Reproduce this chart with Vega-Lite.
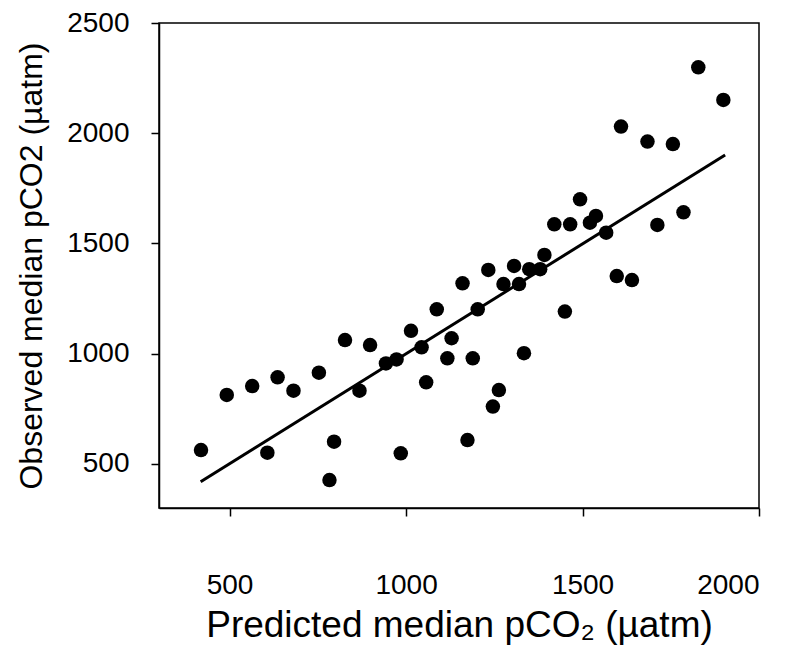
{
  "$schema": "https://vega.github.io/schema/vega-lite/v6.json",
  "autosize": {"type": "none"},
  "width": 600,
  "height": 485,
  "padding": {"left": 159, "top": 23, "right": 37, "bottom": 159},
  "background": "white",
  "config": {
    "font": "Liberation Sans",
    "view": {"stroke": "black", "strokeWidth": 1.5},
    "axis": {
      "grid": false,
      "domainColor": "black",
      "domainWidth": 1.5,
      "tickColor": "black",
      "tickWidth": 1.5,
      "tickSize": 8,
      "labelColor": "black",
      "labelFont": "Liberation Sans",
      "labelFontSize": 28,
      "format": "d",
      "titleColor": "black",
      "titleFont": "Liberation Sans",
      "titleFontWeight": "normal"
    }
  },
  "datasets": {
    "points": [
      {"predicted": 419, "observed": 563},
      {"predicted": 492, "observed": 813},
      {"predicted": 564, "observed": 853},
      {"predicted": 636, "observed": 893},
      {"predicted": 681, "observed": 832},
      {"predicted": 607, "observed": 551},
      {"predicted": 753, "observed": 914},
      {"predicted": 783, "observed": 427},
      {"predicted": 796, "observed": 601},
      {"predicted": 827, "observed": 1062},
      {"predicted": 868, "observed": 832},
      {"predicted": 898, "observed": 1039},
      {"predicted": 943, "observed": 956},
      {"predicted": 973, "observed": 974},
      {"predicted": 985, "observed": 548},
      {"predicted": 1014, "observed": 1104},
      {"predicted": 1044, "observed": 1029},
      {"predicted": 1057, "observed": 870},
      {"predicted": 1087, "observed": 1201},
      {"predicted": 1117, "observed": 979},
      {"predicted": 1129, "observed": 1070},
      {"predicted": 1160, "observed": 1319},
      {"predicted": 1189, "observed": 979},
      {"predicted": 1203, "observed": 1201},
      {"predicted": 1174, "observed": 608},
      {"predicted": 1334, "observed": 1002},
      {"predicted": 1246, "observed": 760},
      {"predicted": 1263, "observed": 835},
      {"predicted": 1233, "observed": 1380},
      {"predicted": 1276, "observed": 1316},
      {"predicted": 1306, "observed": 1398},
      {"predicted": 1320, "observed": 1316},
      {"predicted": 1349, "observed": 1383},
      {"predicted": 1380, "observed": 1383},
      {"predicted": 1392, "observed": 1448},
      {"predicted": 1420, "observed": 1587},
      {"predicted": 1465, "observed": 1587},
      {"predicted": 1450, "observed": 1191},
      {"predicted": 1493, "observed": 1700},
      {"predicted": 1521, "observed": 1594},
      {"predicted": 1538, "observed": 1625},
      {"predicted": 1567, "observed": 1549},
      {"predicted": 1597, "observed": 1352},
      {"predicted": 1640, "observed": 1334},
      {"predicted": 1609, "observed": 2030},
      {"predicted": 1684, "observed": 1962},
      {"predicted": 1756, "observed": 1951},
      {"predicted": 1712, "observed": 1584},
      {"predicted": 1786, "observed": 1641},
      {"predicted": 1828, "observed": 2299},
      {"predicted": 1899, "observed": 2151}
    ],
    "fit": [
      {"predicted": 418, "observed": 419},
      {"predicted": 1904, "observed": 1901}
    ]
  },
  "layer": [
    {
      "data": {"name": "fit"},
      "mark": {"type": "line", "color": "black", "strokeWidth": 3},
      "encoding": {
        "x": {"field": "predicted", "type": "quantitative"},
        "y": {"field": "observed", "type": "quantitative"}
      }
    },
    {
      "data": {"name": "points"},
      "mark": {"type": "point", "shape": "circle", "filled": true, "color": "black", "opacity": 1, "size": 210},
      "encoding": {
        "x": {
          "field": "predicted",
          "type": "quantitative",
          "scale": {"domain": [300, 2000], "zero": false, "nice": false},
          "axis": {"values": [500, 1000, 1500, 2000], "labelPadding": 55, "title": "Predicted median pCO₂ (µatm)", "titleFontSize": 37, "titlePadding": 8}
        },
        "y": {
          "field": "observed",
          "type": "quantitative",
          "scale": {"domain": [300, 2500], "zero": false, "nice": false},
          "axis": {"values": [500, 1000, 1500, 2000, 2500], "labelPadding": 22, "title": "Observed median pCO2 (µatm)", "titleFontSize": 32, "titlePadding": 18}
        }
      }
    }
  ]
}
